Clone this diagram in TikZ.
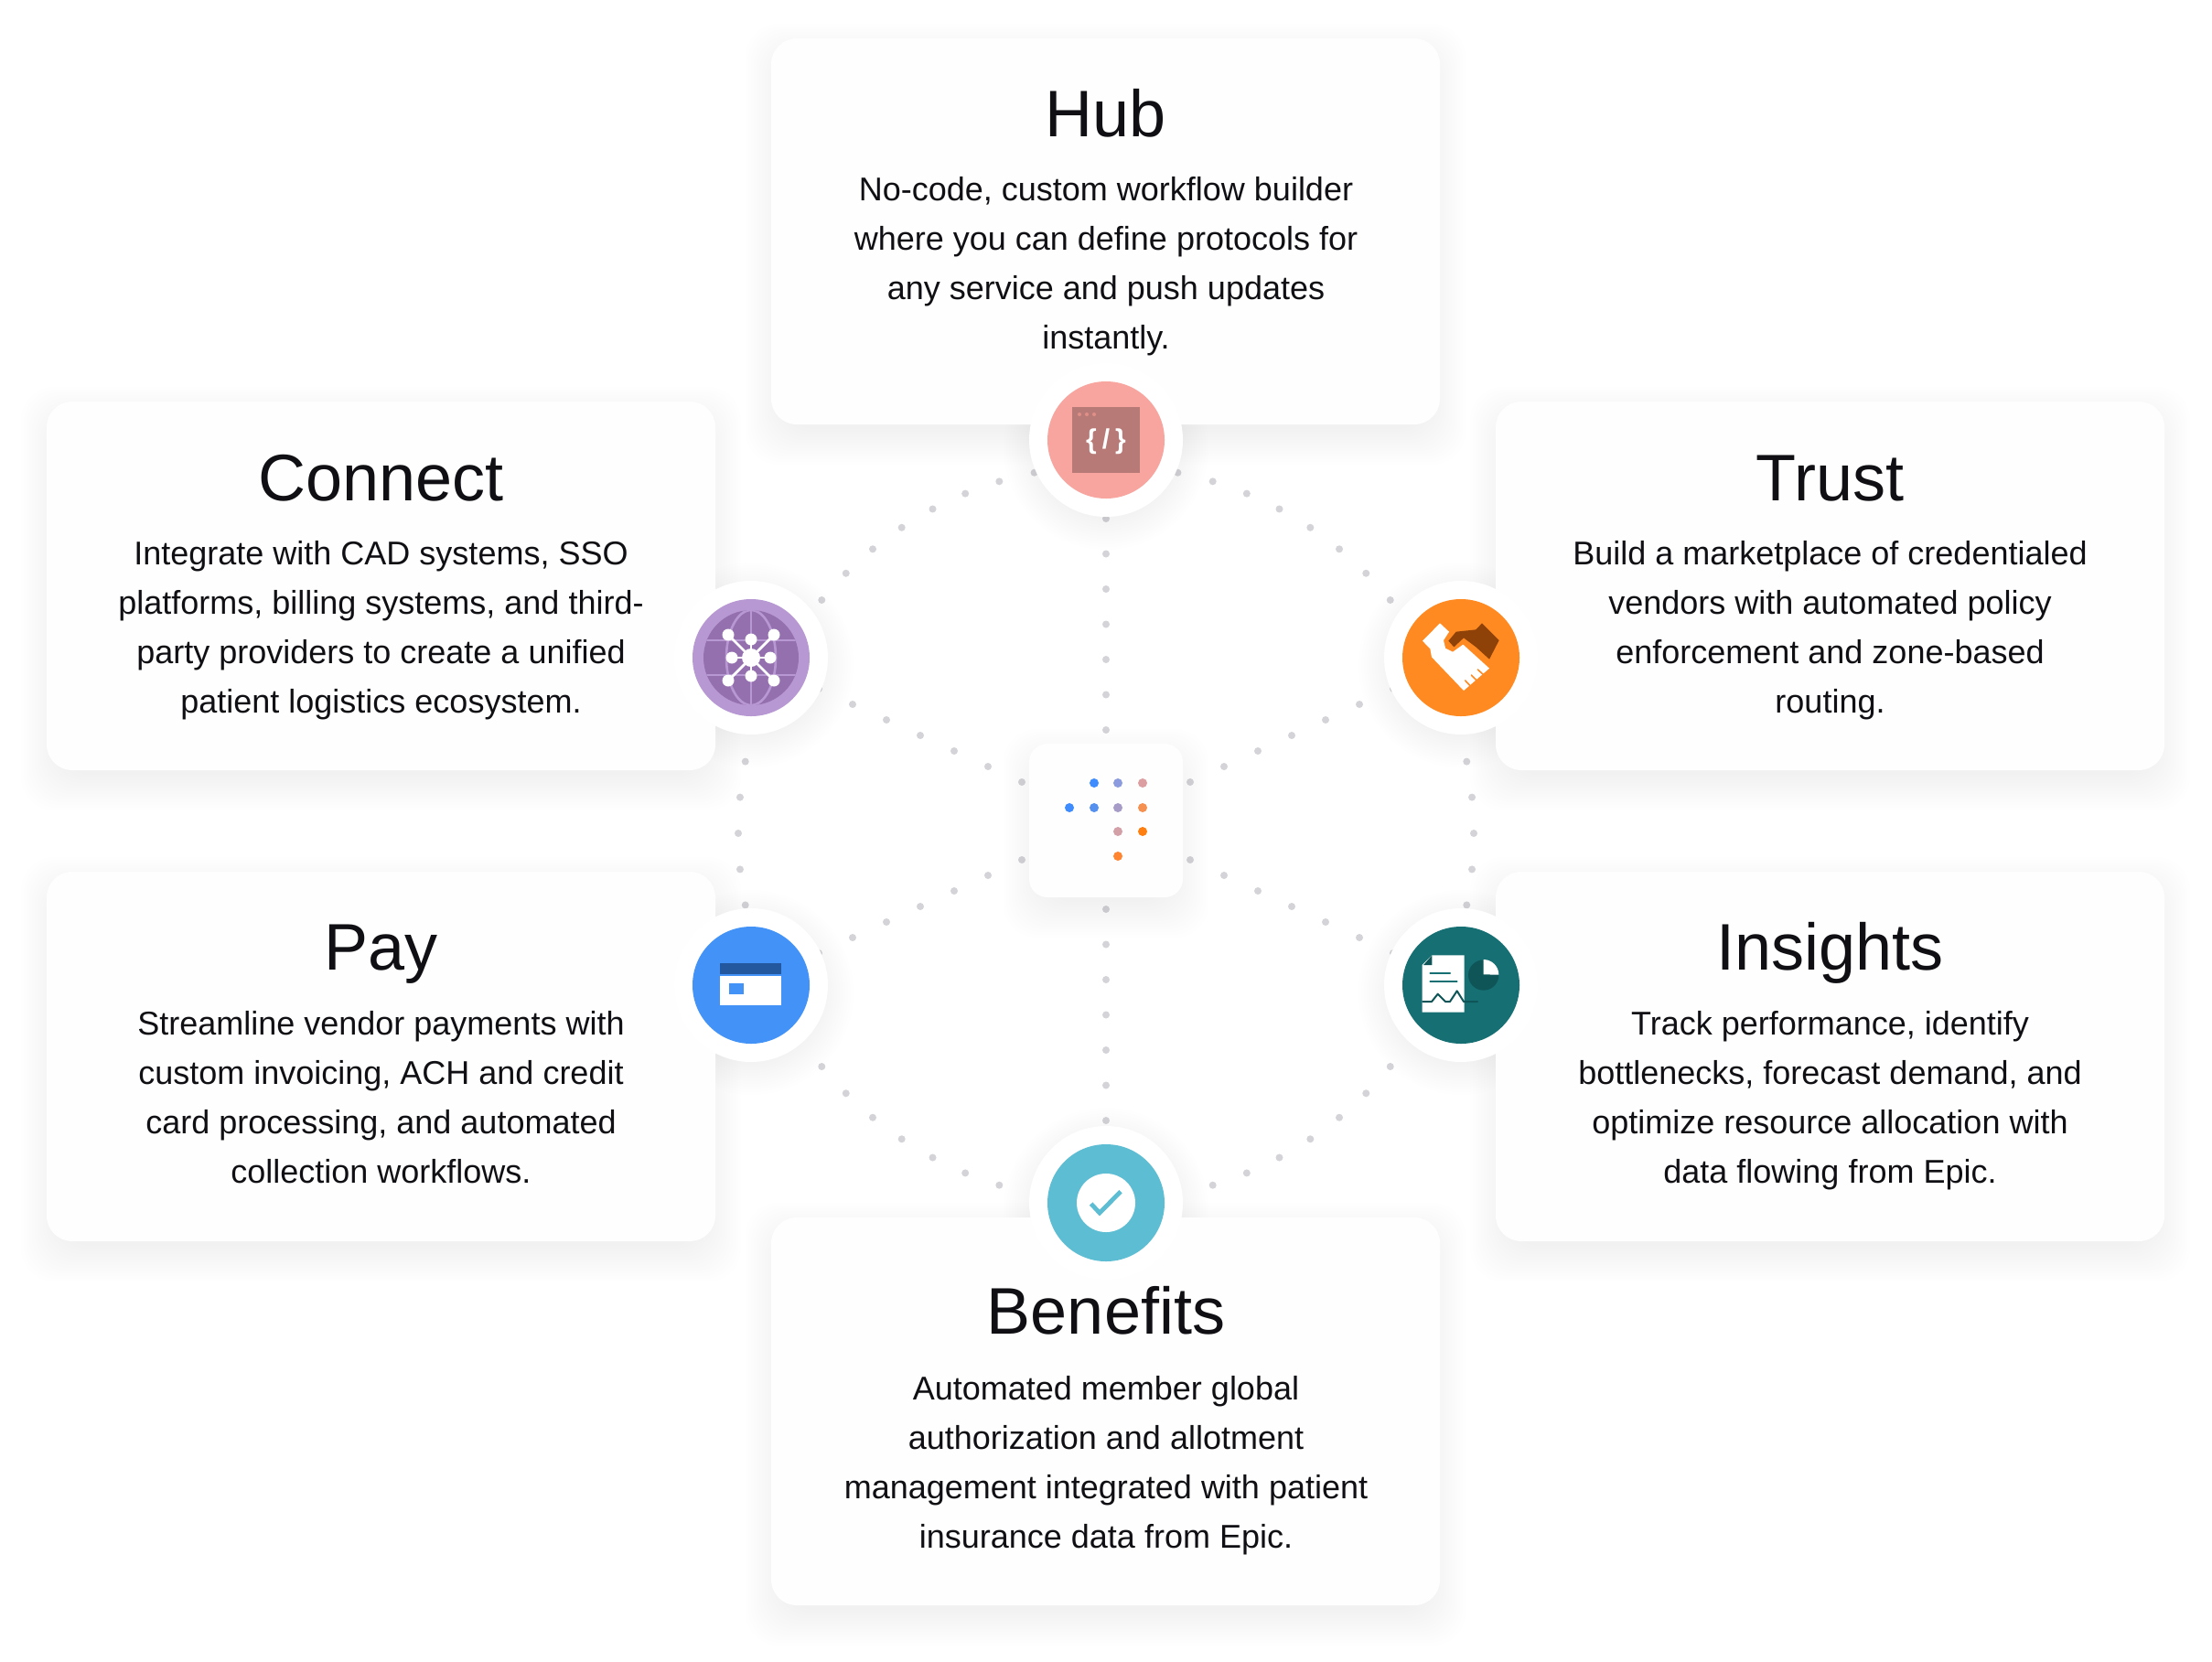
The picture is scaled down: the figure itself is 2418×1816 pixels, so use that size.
\documentclass[tikz,border=0pt]{standalone}
\usepackage{fontspec}
\setmainfont{Liberation Sans}
\tikzset{
	dotgray/.style={fill=dotcol},
	softlayer/.style={fill=black,opacity=.0045},
	cardbox/.style={fill=cardcol,rounded corners=14pt,minimum width=365.5pt,inner sep=0pt},
	cardtitle/.style={anchor=base,text=inkcol,font=\fontsize{36}{38}\selectfont},
	cardbody/.style={anchor=base,text=inkcol,align=center,font=\fontsize{18}{27}\selectfont},
	ringbase/.style={circle,fill=white,minimum size=84pt,inner sep=0pt},
	iconbase/.style={circle,minimum size=64pt,inner sep=0pt},
	zoomed/.style={x=0.16667pt,y=-0.16667pt},
}
\definecolor{dotcol}{HTML}{D4D3D8}
\definecolor{cardcol}{HTML}{FEFEFE}
\definecolor{inkcol}{HTML}{101014}
\definecolor{hubcol}{HTML}{F8A5A0}
\definecolor{hubdark}{HTML}{B87A76}
\definecolor{hubdot}{HTML}{E08F88}
\definecolor{conncol}{HTML}{B898D2}
\definecolor{conndark}{HTML}{9470AE}
\definecolor{trustcol}{HTML}{FF8A22}
\definecolor{trustdark}{HTML}{8F4208}
\definecolor{paycol}{HTML}{4292F8}
\definecolor{paydark}{HTML}{23589F}
\definecolor{inscol}{HTML}{167073}
\definecolor{insdark}{HTML}{0F5558}
\definecolor{benecol}{HTML}{5DBDD3}
\begin{document}
\begin{tikzpicture}[x=0.5pt,y=-0.5pt,line cap=round,line join=round]
		\useasboundingbox (0,0) rectangle (2418,1816);
		\fill[white] (0,0) rectangle (2418,1816);
		% dotted ring and spokes
		\foreach \k in {0,...,63} \fill[dotgray] (1209,911) ++({\k*5.625}:402) circle(4);
		\foreach \k in {0,...,6} {
			\fill[dotgray] (1209,{567+38.5*\k}) circle(4);
			\fill[dotgray] (1209,{994+38.5*\k}) circle(4);
			\fill[dotgray] ({1301+37*\k},{855-17*\k}) circle(4);
			\fill[dotgray] ({1117-37*\k},{855-17*\k}) circle(4);
			\fill[dotgray] ({1301+37*\k},{940+17*\k}) circle(4);
			\fill[dotgray] ({1117-37*\k},{940+17*\k}) circle(4);
		}
		% shadows
		\foreach \xa/\ya/\xb/\yb in {843/42/1574/464,51/439/782/842,1635/439/2366/842,51/953/782/1357,1635/953/2366/1357,843/1331/1574/1755,1125/813/1293/981}
			\foreach \s in {1,...,14}
				\fill[softlayer,rounded corners=18pt] ({\xa+14-\s*3},{\ya+26-\s*3}) rectangle ({\xb-14+\s*3},{\yb+2+\s*3});
		\foreach \cx/\cy in {1209/481,821/719,1597/719,821/1077,1597/1077,1209/1315}
			\foreach \s in {1,...,14}
				\fill[softlayer] (\cx,\cy+8) circle({70+\s*3});
		% cards
		\node[cardbox,minimum height=211pt] (hubcard) at (1208.5,253) {};
		\node[cardbox,minimum height=201.5pt] (conncard) at (416.5,640.5) {};
		\node[cardbox,minimum height=201.5pt] (trustcard) at (2000.5,640.5) {};
		\node[cardbox,minimum height=202pt] (paycard) at (416.5,1155) {};
		\node[cardbox,minimum height=202pt] (inscard) at (2000.5,1155) {};
		\node[cardbox,minimum height=212pt] (benecard) at (1208.5,1543) {};
		\node[fill=cardcol,rounded corners=10pt,minimum size=84pt,inner sep=0pt] (logocard) at (1209,897) {};
		% titles and texts
		\node[cardtitle] (hubtitle) at (1209,149) {Hub};
		\node[cardbody] (hubtext) at (1209,381.5) {No-code, custom workflow builder\\where you can define protocols for\\any service and push updates\\instantly.};
		\node[cardtitle] (conntitle) at (416.5,547) {Connect};
		\node[cardbody] (conntext) at (416.5,779.5) {Integrate with CAD systems, SSO\\platforms, billing systems, and third-\\party providers to create a unified\\patient logistics ecosystem.};
		\node[cardtitle] (trusttitle) at (2000.5,547) {Trust};
		\node[cardbody] (trusttext) at (2000.5,779.5) {Build a marketplace of credentialed\\vendors with automated policy\\enforcement and zone-based\\routing.};
		\node[cardtitle] (paytitle) at (416.5,1060) {Pay};
		\node[cardbody] (paytext) at (416.5,1293.5) {Streamline vendor payments with\\custom invoicing, ACH and credit\\card processing, and automated\\collection workflows.};
		\node[cardtitle] (institle) at (2000.5,1060) {Insights};
		\node[cardbody] (instext) at (2000.5,1293.5) {Track performance, identify\\bottlenecks, forecast demand, and\\optimize resource allocation with\\data flowing from Epic.};
		\node[cardtitle] (benetitle) at (1209,1458) {Benefits};
		\node[cardbody] (benetext) at (1209,1692) {Automated member global\\authorization and allotment\\management integrated with patient\\insurance data from Epic.};
		% rings
		\node[ringbase] (hubring) at (1209,481) {};
		\node[ringbase] (connring) at (821,719) {};
		\node[ringbase] (trustring) at (1597,719) {};
		\node[ringbase] (payring) at (821,1077) {};
		\node[ringbase] (insring) at (1597,1077) {};
		\node[ringbase] (benering) at (1209,1315) {};
		\node[iconbase,fill=hubcol] (hubicon) at (hubring) {};
		\node[iconbase,fill=conncol] (connicon) at (connring) {};
		\node[iconbase,fill=trustcol] (trusticon) at (trustring) {};
		\node[iconbase,fill=paycol] (payicon) at (payring) {};
		\node[iconbase,fill=inscol] (insicon) at (insring) {};
		\node[iconbase,fill=benecol] (beneicon) at (benering) {};
		% logo dots
		\foreach \px/\py/\pc in {1196/856/3F8CFF,1222/856/8C9BDD,1249/856/DC9EA0,1169/883/3F8CFF,1196/883/5590EE,1222/883/A79CC8,1249/883/F59050,1222/909/D4A0A8,1249/909/FF7F10,1222/936/FF8530} {
			\definecolor{logodot}{HTML}{\pc}
			\fill[logodot] (\px,\py) circle(5);
		}
		% hub icon
		\fill[hubdark] (1172,445) rectangle (1246,517);
		\foreach \k in {0,1,2} \fill[hubdot] ({1180+8*\k},453) circle(2);
		\node[text=white,font=\fontsize{15}{15}\bfseries,inner sep=0pt] (hubcode) at (1209,483) {\{\hspace{3pt}/\hspace{3pt}\}};
		% connect icon
		\fill[conndark] (connicon) circle(52);
		\begin{scope}
			\clip (connicon) circle(52);
			\draw[conncol,line width=1.3pt] (769,700) -- (873,700) (769,738) -- (873,738) (821,667) -- (821,771);
			\draw[conncol,line width=1.3pt] (821,719) ellipse(27 and 52);
		\end{scope}
		\foreach \ox/\oy in {-25/-25,25/-25,-25/25,25/25,0/-20,-21/0,21/0,0/20} {
			\draw[white,line width=1.4pt] (connicon.center) -- ++(\ox,\oy);
			\fill[white] (connicon.center) ++(\ox,\oy) circle(6.5);
		}
		\fill[white] (connicon.center) circle(10);
		% trust icon
		\begin{scope}[shift={(1500,620)},zoomed]
			\fill[trustdark] (360,184) -- (416,240) -- (384,302) -- (340,262) -- (300,232) -- (268,262) -- (250,242) -- (275,212) -- (340,205) -- cycle;
			\fill[white] (165,242) -- (222,184) -- (252,212) -- (234,240) -- (240,266) -- (264,278) -- (298,254) -- (384,332) -- (300,405) -- (195,295) -- (190,268) -- cycle;
			\draw[trustcol,line width=.8pt] (346,336) -- (366,354) (325,354) -- (343,372) (305,372) -- (320,388);
		\end{scope}
		% pay icon
		\begin{scope}[shift={(730,980)},zoomed]
			\fill[paydark] (172,218) rectangle (372,256);
			\fill[white] (172,262) rectangle (372,357);
			\fill[paycol] (202,285) rectangle (250,320);
		\end{scope}
		% insights icon
		\begin{scope}[shift={(1500,980)},zoomed]
			\fill[insdark] (365,258) circle(50);
			\fill[white] (365,256) -- (365,207) arc(-90:0:50) -- cycle;
			\fill[white] (196,193) -- (302,193) -- (302,380) -- (164,380) -- (164,225) -- cycle;
			\fill[insdark] (196,193) -- (196,225) -- (168,225) -- cycle;
			\draw[inscol,line width=1pt] (190,252) -- (255,252) (190,278) -- (278,278);
			\draw[insdark,line width=1pt] (165,345) -- (195,345) -- (215,320) -- (240,345) -- (255,345) -- (278,310) -- (300,345) -- (345,345);
		\end{scope}
		% benefits icon
		\fill[white] (beneicon) circle(32);
		\begin{scope}[shift={(1110,1230)},zoomed]
			\draw[benecol,line width=2.4pt,line cap=butt,line join=miter] (248,258) -- (276,288) -- (345,218);
		\end{scope}
\end{tikzpicture}
\end{document}
